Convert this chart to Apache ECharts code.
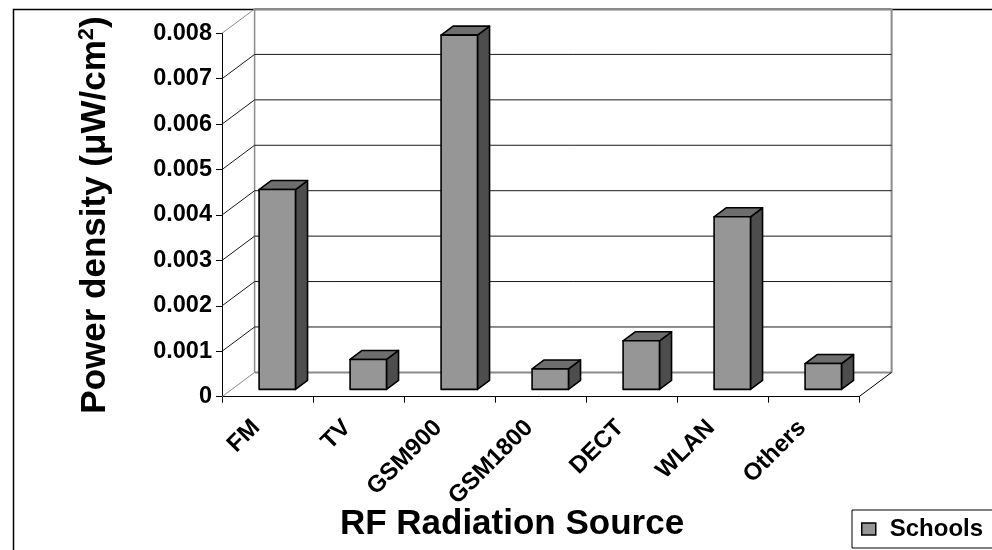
<!DOCTYPE html>
<html>
<head>
<meta charset="utf-8">
<style>
  html, body { margin: 0; padding: 0; background: #ffffff; }
  #chart { width: 992px; height: 550px; }
</style>
<script src="https://cdn.jsdelivr.net/npm/echarts@6/dist/echarts.min.js"></script>
</head>
<body>
<div id="chart"></div>
<script>
// RF radiation sources measured in schools
const categories = ['FM', 'TV', 'GSM900', 'GSM1800', 'DECT', 'WLAN', 'Others'];
const schoolsValues = [0.0044, 0.00066, 0.0078, 0.00045, 0.00107, 0.0038, 0.00057];
const yTicks = [0, 0.001, 0.002, 0.003, 0.004, 0.005, 0.006, 0.007, 0.008];

const FONT = '"Liberation Sans", Arial, Helvetica, sans-serif';

// Oblique projection of the depth axis (pixels for the full floor depth)
const DEPTH_X = 32.6;
const DEPTH_Y = -24.3;
// Bars sit in the middle of the floor depth
const BAR_FRONT = 0.30;
const BAR_BACK = 0.67;
const BAR_RATIO = 0.40;

const chart = echarts.init(document.getElementById('chart'), null, { renderer: 'canvas' });

// Back wall, side wall and floor outline
function renderWalls(params, api) {
  const cs = params.coordSys;
  const v = api.value(0);
  const y = api.coord([0, v])[1];
  const left = cs.x, right = cs.x + cs.width;
  const isEdge = (v === yTicks[0] || v === yTicks[yTicks.length - 1]);
  const lineColor = isEdge ? '#8a8a8a' : '#1a1a1a';
  const lineWidth = isEdge ? 2 : 1;
  const children = [
    { type: 'line', shape: { x1: left, y1: y, x2: left + DEPTH_X, y2: y + DEPTH_Y },
      style: { stroke: isEdge ? '#8a8a8a' : '#1a1a1a', lineWidth: 1 } },
    { type: 'line', shape: { x1: left + DEPTH_X, y1: y + DEPTH_Y, x2: right + DEPTH_X, y2: y + DEPTH_Y },
      style: { stroke: lineColor, lineWidth: lineWidth } }
  ];
  if (params.dataIndex === 0) {
    const yTop = api.coord([0, yTicks[yTicks.length - 1]])[1];
    children.push(
      { type: 'line', shape: { x1: left + DEPTH_X, y1: y + DEPTH_Y, x2: left + DEPTH_X, y2: yTop + DEPTH_Y },
        style: { stroke: '#8a8a8a', lineWidth: 1.5 } },
      { type: 'line', shape: { x1: right + DEPTH_X, y1: y + DEPTH_Y, x2: right + DEPTH_X, y2: yTop + DEPTH_Y },
        style: { stroke: '#8a8a8a', lineWidth: 2 } },
      { type: 'line', shape: { x1: right, y1: y, x2: right + DEPTH_X, y2: y + DEPTH_Y },
        style: { stroke: '#000', lineWidth: 1 } }
    );
  }
  return { type: 'group', children: children };
}

// Prism-shaped column: front face, right side and top
function renderBar(params, api) {
  const idx = api.value(0);
  const val = api.value(1);
  const top = api.coord([idx, val]);
  const base = api.coord([idx, 0]);
  const w = api.size([1, 0])[0] * BAR_RATIO;
  const ox = DEPTH_X * BAR_FRONT, oy = DEPTH_Y * BAR_FRONT;
  const dx = DEPTH_X * (BAR_BACK - BAR_FRONT), dy = DEPTH_Y * (BAR_BACK - BAR_FRONT);
  const x0 = top[0] - w / 2 + ox, x1 = x0 + w;
  const yt = top[1] + oy, yb = base[1] + oy;
  const edge = { stroke: '#000', lineWidth: 1.6, lineJoin: 'round' };
  return {
    type: 'group',
    children: [
      { type: 'polygon', shape: { points: [[x1, yb], [x1, yt], [x1 + dx, yt + dy], [x1 + dx, yb + dy]] },
        style: Object.assign({ fill: '#4d4d4d' }, edge) },
      { type: 'polygon', shape: { points: [[x0, yt], [x1, yt], [x1 + dx, yt + dy], [x0 + dx, yt + dy]] },
        style: Object.assign({ fill: '#6e6e6e' }, edge) },
      { type: 'rect', shape: { x: x0, y: yt, width: w, height: yb - yt },
        style: Object.assign({ fill: '#969696' }, edge) }
    ]
  };
}

const option = {
  backgroundColor: '#ffffff',
  animation: false,
  grid: { left: 222, right: 133, top: 33.3, bottom: 153.3, containLabel: false },
  xAxis: {
    type: 'category',
    data: categories,
    boundaryGap: true,
    axisLine: { show: true, lineStyle: { color: '#000', width: 1 } },
    axisTick: { show: true, length: 6, lineStyle: { color: '#000', width: 1 } },
    axisLabel: {
      rotate: 45, margin: 16, interval: 0, padding: [0, 16, 0, 0],
      fontFamily: FONT, fontWeight: 'bold', fontSize: 24, color: '#000'
    },
    splitLine: { show: false }
  },
  yAxis: {
    type: 'value',
    min: 0, max: 0.008, interval: 0.001,
    axisLine: { show: true, lineStyle: { color: '#000', width: 1 } },
    axisTick: { show: true, length: 6, lineStyle: { color: '#000', width: 1 } },
    axisLabel: {
      margin: 10,
      fontFamily: FONT, fontWeight: 'bold', fontSize: 23.5, color: '#000'
    },
    splitLine: { show: false }
  },
  legend: {
    show: true,
    left: 852, top: 510,
    padding: [7, 30, 7, 9],
    borderColor: '#000', borderWidth: 1,
    backgroundColor: '#fff',
    itemWidth: 14, itemHeight: 12,
    textStyle: { fontFamily: FONT, fontWeight: 'bold', fontSize: 24, color: '#000', padding: [0, 0, 0, 9] },
    data: [{ name: 'Schools', icon: 'rect',
      itemStyle: { color: '#969696', borderColor: '#000', borderWidth: 1.5 } }]
  },
  graphic: [
    { type: 'rect', left: 11, top: 7, silent: true, z: -10,
      shape: { x: 0, y: 0, width: 1100, height: 700 },
      style: { fill: 'none', stroke: '#000', lineWidth: 1.5 } },
    { type: 'text', x: 95, y: 215, rotation: Math.PI / 2, silent: true,
      style: {
        text: 'Power density (μW/cm{sup|2})',
        rich: {
          sup: { fontFamily: FONT, fontWeight: 'bold', fontSize: 22, verticalAlign: 'top', padding: [0, 0, 16, 0] }
        },
        fontFamily: FONT, fontWeight: 'bold', fontSize: 35, fill: '#000',
        align: 'center', verticalAlign: 'middle'
      } },
    { type: 'text', x: 512, y: 524, silent: true,
      style: {
        text: 'RF Radiation Source',
        fontFamily: FONT, fontWeight: 'bold', fontSize: 35, fill: '#000',
        align: 'center', verticalAlign: 'middle'
      } }
  ],
  series: [
    {
      type: 'custom',
      name: 'walls',
      renderItem: renderWalls,
      data: yTicks.map(v => [v]),
      encode: { y: 0 },
      silent: true,
      z: 1
    },
    {
      type: 'custom',
      name: 'Schools',
      renderItem: renderBar,
      data: schoolsValues.map((v, i) => [i, v]),
      encode: { x: 0, y: 1 },
      itemStyle: { color: '#969696', borderColor: '#000', borderWidth: 1.5 },
      z: 5
    }
  ]
};

chart.setOption(option);
</script>
</body>
</html>
